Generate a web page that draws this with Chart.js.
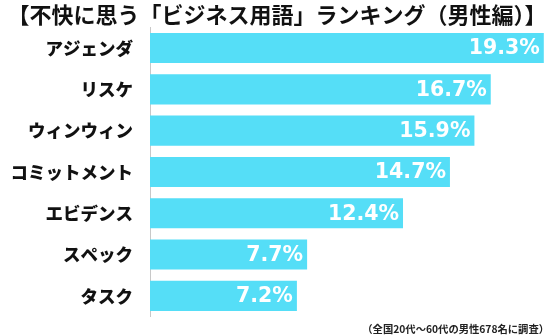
<!DOCTYPE html>
<html>
<head>
<meta charset="utf-8">
<script src="https://cdn.jsdelivr.net/npm/chart.js@4"></script>
<style>
  body { margin: 0; background: #fff; }
  #wrap { width: 554px; height: 336px; position: relative; }
</style>
</head>
<body>
<div id="wrap"><canvas id="chart"></canvas></div>
<script>
// data
var terms = ['アジェンダ', 'リスケ', 'ウィンウィン', 'コミットメント', 'エビデンス', 'スペック', 'タスク']
var percents = [19.3, 16.7, 15.9, 14.7, 12.4, 7.7, 7.2]
var titleText = '【不快に思う「ビジネス用語」ランキング（男性編）】'
var noteText = '（全国20代〜60代の男性678名に調査）'

var jp = '"Noto Sans CJK JP", "Noto Sans", sans-serif'

// white value labels at the end of each bar
var valueLabels = {
    id: 'valueLabels',
    afterDatasetsDraw: function (chart) {
        var ctx = chart.ctx
        var meta = chart.getDatasetMeta(0)
        ctx.save()
        ctx.fillStyle = '#fff'
        ctx.font = 'bold 20.5px "DejaVu Sans", sans-serif'
        ctx.textAlign = 'right'
        ctx.textBaseline = 'middle'
        meta.data.forEach(function (bar, i) {
            ctx.fillText(percents[i].toFixed(1) + '%', bar.x - 4, bar.y + 1)
        })
        ctx.restore()
    }
}

// survey note, bottom right
var footNote = {
    id: 'footNote',
    afterDraw: function (chart) {
        var ctx = chart.ctx
        ctx.save()
        ctx.fillStyle = '#222'
        ctx.font = 'bold 10.3px ' + jp
        ctx.textAlign = 'right'
        ctx.textBaseline = 'middle'
        ctx.fillText(noteText, 549, 329)
        ctx.restore()
    }
}

var chart = new Chart(document.getElementById('chart'), {
    type: 'bar',
    data: {
        labels: terms,
        datasets: [{
            data: percents,
            backgroundColor: '#55def7',
            borderWidth: 0,
            barPercentage: 0.73,
            categoryPercentage: 1
        }]
    },
    options: {
        indexAxis: 'y',
        responsive: true,
        maintainAspectRatio: false,
        animation: false,
        layout: { padding: { top: 0, right: 0, bottom: 1, left: 0 } },
        scales: {
            x: { display: false, min: 0, max: 19.8 },
            y: {
                grid: { display: false },
                border: { display: true, color: '#c8c8c8', width: 1 },
                ticks: {
                    color: '#111',
                    padding: 9,
                    font: { family: jp, size: 17.5, weight: '900' }
                },
                afterFit: function (scale) { scale.width = 150 }
            }
        },
        plugins: {
            legend: { display: false },
            tooltip: { enabled: false },
            title: {
                display: true,
                text: titleText,
                color: '#111',
                padding: { top: 1, bottom: 0 },
                font: { family: jp, size: 22, weight: 'bold', lineHeight: 1.2 }
            }
        }
    },
    plugins: [valueLabels, footNote]
})
</script>
</body>
</html>
